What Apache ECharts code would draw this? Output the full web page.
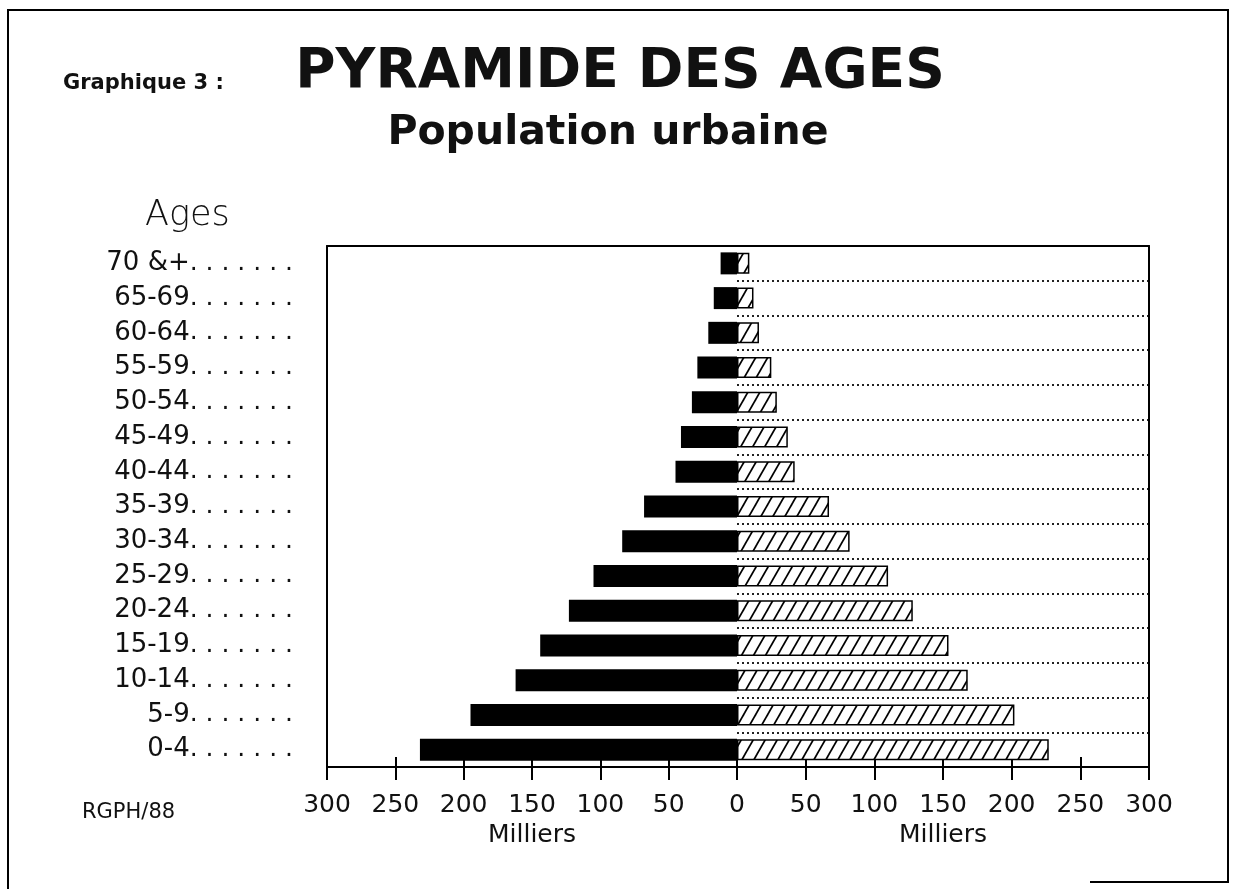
<!DOCTYPE html>
<html><head><meta charset="utf-8">
<script src="https://cdn.jsdelivr.net/npm/echarts@6/dist/echarts.min.js"></script>
<style>html,body{margin:0;padding:0;background:#fff}#c{width:1235px;height:889px}</style>
</head><body><div id="c"></div>
<script>
// ---- data ----
const categories = ['0-4','5-9','10-14','15-19','20-24','25-29','30-34','35-39','40-44','45-49','50-54','55-59','60-64','65-69','70 &+'];
const hommes = [232,195,162,144,123,105,84,68,45,41,33,29,21,17,12];
const femmes = [227,202,168,154,128,110,82,67,42,37,29,25,16,12,9];
const axisMax = 300;
const axisStep = 50;

// ---- hatch pattern ----
function hatch(){
  const w=12,h=21;
  const c=document.createElement('canvas'); c.width=w; c.height=h;
  const g=c.getContext('2d');
  g.fillStyle='#fff'; g.fillRect(0,0,w,h);
  g.strokeStyle='#000'; g.lineWidth=1.7;
  for (const dx of [-w,0,w]) {
    g.beginPath(); g.moveTo(dx - w/2, h*1.5); g.lineTo(dx + w*1.5, -h/2); g.stroke();
  }
  return c;
}

const FONT = 'DejaVu Sans';
const txt = {fontFamily: FONT, color: '#111'};
const chart = echarts.init(document.getElementById('c'), null, {renderer:'canvas'});

function valueAxis(grid, inverse, kind){
  const a = {type:'value', gridIndex:grid, min:0, max:axisMax, interval:axisStep, inverse:inverse,
    splitLine:{show:false}};
  if (kind==='main'){
    Object.assign(a,{position:'bottom',
      axisLine:{show:true,onZero:false,lineStyle:{color:'#000',width:2}},
      axisTick:{show:true,length:13,lineStyle:{color:'#000',width:2}},
      axisLabel:{show:true,margin:26,fontSize:25,...txt,
        formatter: v => (inverse && v===0) ? '' : String(v)},
      name:'Milliers', nameLocation:'middle', nameGap:56,
      nameTextStyle:{fontSize:25,...txt}});
  } else if (kind==='inner'){
    Object.assign(a,{position:'bottom',axisLine:{show:false},
      axisTick:{show:true,inside:true,length:10,lineStyle:{color:'#000',width:2}},
      axisLabel:{show:false}});
  } else {
    Object.assign(a,{position:'top',axisLine:{show:true,onZero:false,lineStyle:{color:'#000',width:2}},
      axisTick:{show:false},axisLabel:{show:false}});
  }
  return a;
}

const option = {
  animation:false,
  backgroundColor:'#fff',
  grid:[
    {left:327, top:246, width:410, height:521},
    {left:737, top:246, width:412, height:521}
  ],
  xAxis:[
    valueAxis(0,true,'main'), valueAxis(0,true,'inner'), valueAxis(0,true,'top'),
    valueAxis(1,false,'main'), valueAxis(1,false,'inner'), valueAxis(1,false,'top')
  ],
  yAxis:[
    {type:'category', gridIndex:0, data:categories, position:'left',
      axisLine:{show:true,onZero:false,lineStyle:{color:'#000',width:2}}, axisTick:{show:false},
      splitLine:{show:false},
      axisLabel:{show:true, margin:34, align:'right',
        formatter: v => '{n|' + v + '}{d|. . . . . . .}',
        rich:{ n:{fontSize:26, fontFamily:FONT, color:'#111'},
               d:{fontSize:25, fontFamily:FONT, color:'#111'} } } },
    {type:'category', gridIndex:1, data:categories, position:'left',
      axisLine:{show:false}, axisTick:{show:false}, axisLabel:{show:false},
      splitLine:{show:true, lineStyle:{color:'#222', width:2, type:[2,3]}} },
    {type:'category', gridIndex:1, data:categories, position:'right',
      axisLine:{show:true,onZero:false,lineStyle:{color:'#000',width:2}}, axisTick:{show:false},
      axisLabel:{show:false}, splitLine:{show:false} }
  ],
  series:[
    {type:'bar', name:'Hommes', xAxisIndex:0, yAxisIndex:0, data:hommes, barWidth:22,
      itemStyle:{color:'#000'}},
    {type:'bar', name:'Femmes', xAxisIndex:3, yAxisIndex:1, data:femmes, barWidth:21,
      itemStyle:{color:{image:hatch(), repeat:'repeat'}, borderColor:'#000', borderWidth:1.5}}
  ],
  graphic:[
    {type:'polyline', shape:{points:[[8,889],[8,10],[1228,10],[1228,882],[1090,882]]},
      style:{stroke:'#000', lineWidth:2, fill:null}, silent:true},
    {type:'text', x:63, y:84, style:{text:'Graphique 3 :', fontFamily:FONT, fontWeight:'bold', fontSize:21, fill:'#111', align:'left', verticalAlign:'middle'}},
    {type:'text', x:620, y:73, style:{text:'PYRAMIDE DES AGES', fontFamily:FONT, fontWeight:'bold', fontSize:55, fill:'#111', align:'center', verticalAlign:'middle'}},
    {type:'text', x:608, y:133, style:{text:'Population urbaine', fontFamily:FONT, fontWeight:'bold', fontSize:41, fill:'#111', align:'center', verticalAlign:'middle'}},
    {type:'text', x:145, y:216, style:{text:'Ages', fontFamily:FONT, fontWeight:200, fontSize:35, fill:'#111', align:'left', verticalAlign:'middle'}},
    {type:'text', x:82, y:813, style:{text:'RGPH/88', fontFamily:FONT, fontSize:21, fill:'#111', align:'left', verticalAlign:'middle'}}
  ]
};
chart.setOption(option);
</script>
</body></html>
